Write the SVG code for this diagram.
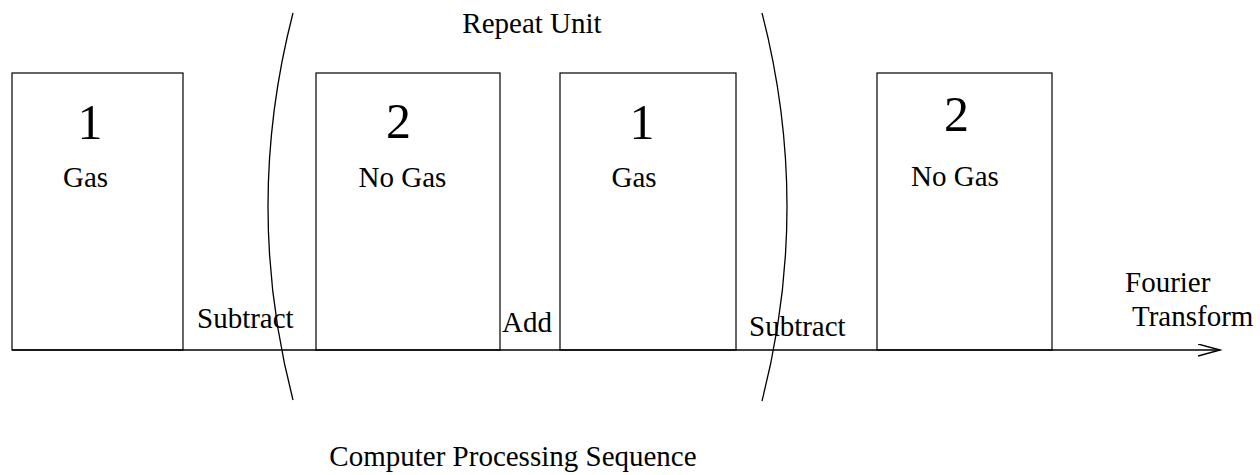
<svg xmlns="http://www.w3.org/2000/svg" width="1260" height="475" viewBox="0 0 1260 475">
<style>
  .box { fill: none; stroke: #000; stroke-width: 1.2; }
  .ln { fill: none; stroke: #000; stroke-width: 1.3; }
  text { font-family: "Liberation Serif", "Times New Roman", serif; fill: #000; }
  .lbl { font-size: 29px; }
  .num { font-size: 50px; text-anchor: middle; }
  .mid { text-anchor: middle; }
</style>
<defs>
  <marker id="open" markerWidth="24" markerHeight="14" refX="22" refY="6.5" orient="auto" markerUnits="userSpaceOnUse">
    <path d="M0,0.5 L22,6.5 L0,12.5" fill="none" stroke="#000" stroke-width="1.3"/>
  </marker>
</defs>
<rect width="1260" height="475" fill="#fff"/>
<g id="connectors">
  <line class="ln" x1="12" y1="350" x2="1220" y2="350" marker-end="url(#open)"/>
  <path class="ln" d="M293,13 Q243,206.5 293,400"/>
  <path class="ln" d="M762,13 Q812,206.5 762,401"/>
</g>
<g id="node1">
  <rect class="box" x="12" y="73" width="171" height="277"/>
  <text class="num" x="90" y="139">1</text>
  <text class="lbl mid" x="85.5" y="187">Gas</text>
</g>
<g id="node2">
  <rect class="box" x="316" y="73" width="184" height="277"/>
  <text class="num" x="398.5" y="138">2</text>
  <text class="lbl mid" x="402.5" y="187">No Gas</text>
</g>
<g id="node3">
  <rect class="box" x="560" y="73" width="176" height="277"/>
  <text class="num" x="642" y="139">1</text>
  <text class="lbl mid" x="634" y="187">Gas</text>
</g>
<g id="node4">
  <rect class="box" x="877" y="73" width="175" height="277"/>
  <text class="num" x="956.5" y="131">2</text>
  <text class="lbl mid" x="955" y="186">No Gas</text>
</g>
<g id="labels">
  <text class="lbl" x="532" y="33" text-anchor="middle">Repeat Unit</text>
  <text class="lbl" x="197" y="328">Subtract</text>
  <text class="lbl" x="502" y="332">Add</text>
  <text class="lbl" x="749" y="336">Subtract</text>
  <text class="lbl" x="1125" y="292">Fourier</text>
  <text class="lbl" x="1132" y="326">Transform</text>
  <text class="lbl" x="513" y="466" text-anchor="middle">Computer Processing Sequence</text>
</g>
</svg>
